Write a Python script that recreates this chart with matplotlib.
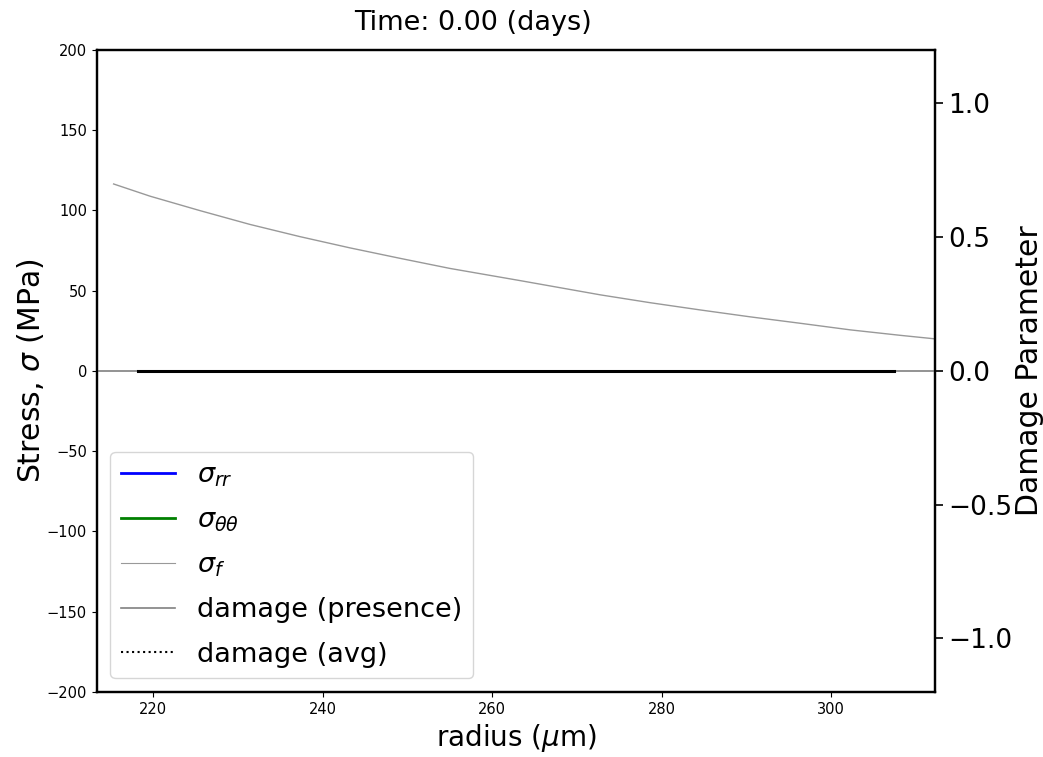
import matplotlib
matplotlib.use("Agg")
import matplotlib.pyplot as plt
from matplotlib.lines import Line2D

# Fracture strength profile sigma_f (MPa) along the radius (um)
radius_f = [215.3, 219.6, 225.5, 231.4, 237.3, 243.2, 249.1, 255.0, 263.3,
            272.8, 278.7, 284.6, 290.5, 296.4, 302.3, 308.2, 312.3, 315.0]
sigma_f = [116.5, 108.9, 99.9, 91.3, 83.7, 76.7, 70.2, 63.9, 56.3,
           47.4, 42.5, 38.0, 33.7, 29.7, 25.6, 22.2, 20.0, 18.8]

# Radial / hoop stress at t = 0 (no data yet)
radius_s = []
sigma_rr = []
sigma_tt = []

# Damage presence flag over the full domain, and averaged damage inside the pellet
radius_presence = [212.0, 314.0]
damage_presence = [0.0, 0.0]
radius_avg = [218.2, 307.4]
damage_avg = [0.0, 0.0]

time_days = 0.00

fig = plt.figure(figsize=(10.43, 7.57), dpi=100)
ax = fig.add_axes([0.0927, 0.0859, 0.8038, 0.8481])
ax2 = ax.twinx()

ax.plot(radius_s, sigma_rr, color="blue", lw=2)
ax.plot(radius_s, sigma_tt, color="green", lw=2)
ax.plot(radius_f, sigma_f, color="#999999", lw=1)

ax2.plot(radius_presence, damage_presence, color="#808080", lw=1.2, zorder=1)
ax2.plot(radius_avg, damage_avg, color="black", lw=2.2, zorder=2)

ax.set_xlim(213.3, 312.3)
ax.set_ylim(-200, 200)
ax2.set_ylim(-1.2, 1.2)
ax.set_xticks([220, 240, 260, 280, 300])
ax.set_yticks(range(-200, 201, 50))
ax2.set_yticks([-1.0, -0.5, 0.0, 0.5, 1.0])

ax.tick_params(labelsize=10.5)
ax2.tick_params(labelsize=19, length=6, width=1.2)
for a in (ax, ax2):
    for s in a.spines.values():
        s.set_linewidth(1.6)

ax.set_xlabel(r"radius ($\mu$m)", fontsize=20, labelpad=4)
ax.set_ylabel(r"Stress, $\sigma$ (MPa)", fontsize=21.5, labelpad=0.5)
ax2.set_ylabel("Damage Parameter", fontsize=21.5, labelpad=2)
fig.suptitle(f"Time: {time_days:.2f} (days)", fontsize=19.5,
             x=0.4535, y=0.969, va="center")

handles = [
    Line2D([], [], color="blue", lw=2),
    Line2D([], [], color="green", lw=2),
    Line2D([], [], color="#999999", lw=0.8),
    Line2D([], [], color="#808080", lw=1.2),
    Line2D([], [], color="black", lw=1.5, ls=":"),
]
labels = [r"$\sigma_{rr}$", r"$\sigma_{\theta\theta}$", r"$\sigma_f$",
          "damage (presence)", "damage (avg)"]
ax2.legend(handles, labels, loc="lower left", fontsize=19.5, labelspacing=0.68)

fig.savefig("out.png", dpi=100)
